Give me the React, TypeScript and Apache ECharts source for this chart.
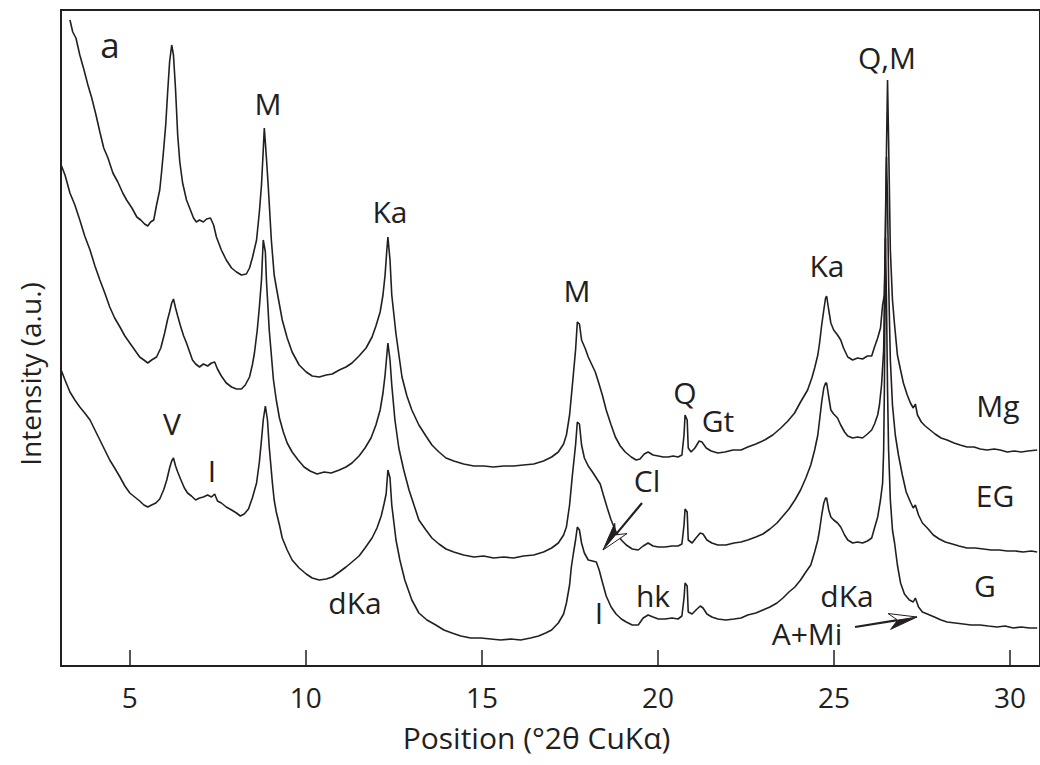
import React, { useEffect, useRef } from "react";
import * as echarts from "echarts";

// Position (°2θ) and intensity (a.u.)
const mgData: [number, number][] = [
  [3.30,646],[3.38,634],[3.47,628],[3.58,611],[3.70,596],[3.81,581],[3.92,568],[4.04,551],[4.15,534],[4.26,518],
  [4.38,508],[4.52,493],[4.66,484],[4.80,473],[4.91,466],[5.06,458],[5.20,449],[5.31,446],[5.42,442],[5.51,440],
  [5.59,444],[5.68,446],[5.76,461],[5.85,476],[5.90,493],[5.96,516],[6.02,541],[6.07,571],[6.13,604],[6.19,621],
  [6.24,611],[6.30,576],[6.36,531],[6.42,504],[6.50,483],[6.61,466],[6.70,458],[6.81,448],[6.89,444],[6.98,446],
  [7.09,444],[7.18,447],[7.29,448],[7.38,441],[7.46,429],[7.60,416],[7.74,406],[7.89,398],[8.03,394],[8.17,391],
  [8.31,392],[8.40,398],[8.48,408],[8.60,426],[8.68,454],[8.74,481],[8.79,516],[8.82,538],[8.88,508],[8.93,481],
  [9.02,426],[9.10,391],[9.19,373],[9.33,346],[9.47,328],[9.61,314],[9.81,301],[10.01,294],[10.18,290],[10.38,289],
  [10.58,291],[10.75,292],[10.95,296],[11.14,299],[11.31,303],[11.51,310],[11.71,318],[11.88,329],[11.99,340],[12.11,354],
  [12.19,371],[12.25,391],[12.30,416],[12.33,429],[12.39,406],[12.44,371],[12.56,332],[12.73,289],[12.87,270],[13.01,256],
  [13.21,241],[13.41,230],[13.58,221],[13.78,214],[13.98,208],[14.20,205],[14.48,202],[14.77,200],[15.05,200],[15.33,199],
  [15.62,200],[15.90,200],[16.18,201],[16.47,202],[16.75,205],[16.98,209],[17.17,214],[17.32,222],[17.40,231],[17.49,251],
  [17.57,281],[17.66,316],[17.71,344],[17.77,342],[17.83,326],[17.94,317],[18.02,309],[18.14,300],[18.22,294],[18.31,284],
  [18.42,271],[18.53,256],[18.67,241],[18.79,229],[18.93,220],[19.07,214],[19.24,209],[19.38,206],[19.49,207],[19.61,212],
  [19.72,214],[19.86,211],[20.01,210],[20.15,209],[20.29,209],[20.43,210],[20.57,209],[20.68,211],[20.74,231],[20.77,251],
  [20.83,246],[20.86,218],[20.94,214],[21.05,218],[21.17,225],[21.25,224],[21.37,218],[21.51,215],[21.70,213],[21.90,214],
  [22.13,216],[22.36,216],[22.55,219],[22.78,222],[23.03,226],[23.26,231],[23.49,238],[23.69,245],[23.88,253],[24.05,264],
  [24.25,276],[24.37,288],[24.45,298],[24.54,311],[24.59,323],[24.65,341],[24.71,356],[24.76,368],[24.79,370],[24.85,356],
  [24.91,343],[24.99,336],[25.10,331],[25.19,326],[25.27,318],[25.39,309],[25.53,306],[25.67,308],[25.81,307],[25.95,310],
  [26.07,310],[26.15,319],[26.24,328],[26.32,338],[26.38,361],[26.43,371],[26.46,416],[26.49,516],[26.52,586],[26.55,526],
  [26.60,416],[26.66,366],[26.72,341],[26.80,311],[26.89,296],[26.97,283],[27.08,271],[27.17,263],[27.25,258],[27.31,262],
  [27.37,251],[27.48,244],[27.59,240],[27.73,236],[27.87,232],[28.04,228],[28.21,226],[28.41,223],[28.58,221],[28.78,219],
  [28.98,219],[29.15,217],[29.35,216],[29.55,217],[29.72,216],[29.92,214],[30.12,215],[30.32,214],[30.51,215],[30.77,216]
];

const egData: [number, number][] = [
  [3.05,501],[3.16,491],[3.30,473],[3.44,461],[3.58,446],[3.72,430],[3.87,416],[4.01,400],[4.15,386],[4.29,373],
  [4.43,359],[4.57,348],[4.72,339],[4.86,330],[5.00,323],[5.14,316],[5.28,309],[5.40,306],[5.51,303],[5.62,306],
  [5.76,309],[5.88,318],[5.99,333],[6.07,346],[6.13,354],[6.19,363],[6.24,367],[6.30,358],[6.36,350],[6.44,340],
  [6.53,330],[6.61,323],[6.70,314],[6.78,306],[6.87,302],[6.98,299],[7.09,302],[7.21,300],[7.32,303],[7.41,304],
  [7.49,297],[7.60,290],[7.74,283],[7.89,279],[8.03,277],[8.17,277],[8.28,281],[8.40,289],[8.48,301],[8.54,313],
  [8.62,336],[8.68,359],[8.74,386],[8.77,411],[8.79,426],[8.85,414],[8.88,386],[8.96,336],[9.02,311],[9.08,286],
  [9.16,266],[9.25,248],[9.36,234],[9.47,223],[9.61,214],[9.78,206],[9.95,199],[10.12,195],[10.32,192],[10.52,194],
  [10.72,193],[10.95,196],[11.14,199],[11.31,203],[11.51,210],[11.68,218],[11.85,228],[11.99,241],[12.11,256],[12.19,273],
  [12.25,291],[12.30,311],[12.33,323],[12.39,306],[12.44,281],[12.53,246],[12.64,218],[12.78,196],[12.93,176],[13.07,161],
  [13.21,146],[13.41,136],[13.58,128],[13.78,122],[13.98,117],[14.20,114],[14.48,111],[14.77,109],[15.05,110],[15.33,108],
  [15.62,109],[15.90,108],[16.18,110],[16.47,111],[16.75,114],[16.98,118],[17.17,123],[17.32,131],[17.40,139],[17.49,161],
  [17.57,191],[17.66,221],[17.71,244],[17.77,242],[17.83,221],[17.91,208],[18.02,200],[18.14,194],[18.25,188],[18.36,182],
  [18.45,171],[18.56,158],[18.67,146],[18.81,134],[18.96,126],[19.10,121],[19.27,117],[19.44,116],[19.58,120],[19.72,123],
  [19.86,120],[20.01,119],[20.20,119],[20.40,120],[20.57,120],[20.68,122],[20.74,141],[20.77,157],[20.83,154],[20.86,126],
  [20.97,123],[21.08,128],[21.20,133],[21.28,132],[21.39,126],[21.53,123],[21.70,121],[21.93,121],[22.16,123],[22.36,124],
  [22.55,126],[22.78,129],[22.98,132],[23.18,137],[23.38,143],[23.55,150],[23.72,157],[23.89,166],[24.05,176],[24.20,188],
  [24.34,201],[24.45,216],[24.54,231],[24.59,246],[24.65,264],[24.71,278],[24.76,283],[24.79,283],[24.85,269],[24.91,256],
  [24.99,252],[25.10,248],[25.19,241],[25.30,234],[25.39,230],[25.53,228],[25.67,229],[25.81,228],[25.95,232],[26.07,236],
  [26.15,242],[26.24,251],[26.29,261],[26.35,281],[26.41,316],[26.43,366],[26.46,446],[26.49,509],[26.52,466],[26.55,386],
  [26.60,306],[26.66,261],[26.74,231],[26.83,211],[26.94,191],[27.05,174],[27.17,164],[27.25,158],[27.31,161],[27.40,151],
  [27.51,143],[27.65,138],[27.82,131],[27.99,127],[28.16,124],[28.36,122],[28.55,120],[28.78,118],[29.01,118],[29.24,117],
  [29.46,116],[29.69,116],[29.92,115],[30.15,115],[30.37,114],[30.60,115],[30.77,114]
];

const gData: [number, number][] = [
  [3.05,296],[3.16,286],[3.30,274],[3.44,266],[3.58,259],[3.72,253],[3.87,246],[4.01,236],[4.15,226],[4.29,216],
  [4.43,206],[4.57,198],[4.72,189],[4.86,180],[5.00,173],[5.14,169],[5.28,165],[5.40,161],[5.51,159],[5.62,161],
  [5.74,163],[5.85,167],[5.96,176],[6.05,186],[6.13,198],[6.19,205],[6.24,208],[6.30,200],[6.36,194],[6.44,187],
  [6.55,178],[6.64,173],[6.75,170],[6.87,166],[6.98,168],[7.09,169],[7.21,171],[7.32,169],[7.41,172],[7.49,165],
  [7.60,163],[7.74,159],[7.89,156],[8.03,153],[8.14,150],[8.25,152],[8.37,157],[8.48,168],[8.60,183],[8.68,204],
  [8.74,226],[8.79,246],[8.85,260],[8.91,246],[8.96,219],[9.05,183],[9.10,166],[9.16,154],[9.25,141],[9.33,128],
  [9.47,116],[9.61,106],[9.81,98],[10.01,92],[10.18,88],[10.38,86],[10.58,87],[10.75,89],[10.95,94],[11.14,99],
  [11.31,104],[11.51,110],[11.68,118],[11.88,128],[12.02,138],[12.14,150],[12.22,162],[12.28,172],[12.33,196],[12.39,188],
  [12.44,161],[12.56,126],[12.67,106],[12.81,86],[13.01,66],[13.21,53],[13.44,46],[13.69,41],[13.92,36],[14.15,33],
  [14.40,30],[14.68,28],[14.97,28],[15.25,27],[15.53,26],[15.82,27],[16.10,26],[16.38,28],[16.61,30],[16.81,33],
  [16.98,36],[17.17,43],[17.32,52],[17.40,63],[17.49,81],[17.54,99],[17.60,113],[17.66,126],[17.71,139],[17.77,136],
  [17.83,123],[17.91,113],[18.02,106],[18.14,105],[18.25,104],[18.33,96],[18.42,84],[18.53,70],[18.67,59],[18.81,52],
  [18.96,47],[19.10,44],[19.27,41],[19.44,41],[19.58,48],[19.72,51],[19.86,49],[20.01,47],[20.20,47],[20.40,48],
  [20.57,47],[20.68,50],[20.74,68],[20.77,83],[20.83,80],[20.86,54],[20.97,52],[21.08,56],[21.20,60],[21.28,58],
  [21.39,52],[21.53,49],[21.70,47],[21.93,46],[22.16,47],[22.36,48],[22.55,51],[22.78,53],[22.98,56],[23.18,59],
  [23.38,63],[23.55,68],[23.72,74],[23.89,79],[24.05,86],[24.20,94],[24.34,101],[24.45,114],[24.54,126],[24.59,136],
  [24.65,151],[24.71,163],[24.76,168],[24.79,168],[24.85,156],[24.91,149],[24.99,146],[25.10,143],[25.19,139],[25.30,131],
  [25.39,126],[25.53,123],[25.67,124],[25.81,123],[25.95,125],[26.07,128],[26.15,138],[26.24,149],[26.32,166],[26.38,183],
  [26.41,216],[26.43,276],[26.46,428],[26.49,366],[26.52,276],[26.55,216],[26.60,166],[26.66,136],[26.72,123],[26.80,101],
  [26.89,83],[27.00,72],[27.14,66],[27.25,64],[27.31,68],[27.40,59],[27.51,54],[27.65,52],[27.85,49],[28.04,46],
  [28.21,44],[28.44,43],[28.67,42],[28.89,41],[29.15,41],[29.38,40],[29.63,39],[29.86,40],[30.09,38],[30.32,39],
  [30.55,38],[30.77,38]
];

const xTicks = [5, 10, 15, 20, 25, 30];

const INK = "#231f20";
const FONT = "Open Sans";

function label(text: string, x: number, y: number, size = 30) {
  return {
    type: "text",
    x,
    y,
    style: {
      text,
      fill: INK,
      fontSize: size,
      fontFamily: FONT,
      align: "center",
      verticalAlign: "middle",
    },
    z: 10,
  };
}

function arrow(tx: number, ty: number, hx: number, hy: number) {
  const dx = hx - tx;
  const dy = hy - ty;
  const len = Math.sqrt(dx * dx + dy * dy);
  const ux = dx / len;
  const uy = dy / len;
  const px = -uy;
  const py = ux;
  const hl = 28;
  const hw = 8;
  const bx = hx - ux * hl;
  const by = hy - uy * hl;
  const nx = hx - ux * hl * 0.7;
  const ny = hy - uy * hl * 0.7;
  const b1: [number, number] = [bx + px * hw, by + py * hw];
  const b2: [number, number] = [bx - px * hw, by - py * hw];
  return [
    {
      type: "line",
      shape: { x1: tx, y1: ty, x2: nx, y2: ny },
      style: { stroke: INK, lineWidth: 2.2 },
      z: 10,
    },
    {
      type: "polygon",
      shape: { points: [[hx, hy], b1, [nx, ny]] },
      style: { fill: INK, stroke: INK, lineWidth: 1 },
      z: 10,
    },
    {
      type: "polygon",
      shape: { points: [[hx, hy], [nx, ny], b2] },
      style: { fill: "#ffffff", stroke: INK, lineWidth: 1 },
      z: 10,
    },
  ];
}

function series(name: string, data: [number, number][]) {
  return {
    name,
    type: "line",
    data,
    showSymbol: false,
    symbol: "none",
    lineStyle: { color: INK, width: 1.6 },
    itemStyle: { color: INK },
    clip: true,
    z: 3,
  };
}

export default function App() {
  const ref = useRef<HTMLDivElement>(null);

  useEffect(() => {
    if (!ref.current) return;
    const chart = echarts.init(ref.current, undefined, { renderer: "svg" });
    chart.setOption({
      animation: false,
      backgroundColor: "#ffffff",
      grid: {
        left: 61,
        right: -3,
        top: 10,
        bottom: 99,
        show: true,
        borderColor: INK,
        borderWidth: 2,
        backgroundColor: "transparent",
      },
      xAxis: {
        type: "value",
        min: 3.046,
        max: 30.85,
        name: "Position (°2θ CuKα)",
        nameLocation: "middle",
        nameGap: 56,
        nameTextStyle: { color: INK, fontSize: 30, fontFamily: FONT, padding: [0, 28, 0, 0] },
        axisLine: { show: true, lineStyle: { color: INK, width: 2 } },
        axisTick: {
          show: true,
          inside: true,
          length: 16,
          customValues: xTicks,
          lineStyle: { color: INK, width: 1.5 },
        },
        axisLabel: {
          show: true,
          customValues: xTicks,
          margin: 17,
          color: INK,
          fontSize: 28,
          fontFamily: FONT,
        },
        splitLine: { show: false },
      },
      yAxis: {
        type: "value",
        min: 0,
        max: 656,
        axisLine: { show: true, lineStyle: { color: INK, width: 2 } },
        axisTick: { show: false },
        axisLabel: { show: false },
        splitLine: { show: false },
      },
      series: [series("Mg", mgData), series("EG", egData), series("G", gData)],
      graphic: [
        {
          type: "text",
          x: 30,
          y: 374,
          rotation: Math.PI / 2,
          style: {
            text: "Intensity (a.u.)",
            fill: INK,
            fontSize: 28,
            fontFamily: FONT,
            align: "center",
            verticalAlign: "middle",
          },
        },
        label("a", 110, 44, 35),
        label("M", 268, 103),
        label("Ka", 390, 211),
        label("M", 577, 290),
        label("Q", 685, 392),
        label("Gt", 718, 420),
        label("Ka", 827, 265),
        label("Q,M", 887, 57),
        label("Mg", 998, 405),
        label("EG", 995, 495),
        label("G", 985, 585),
        label("V", 172, 423),
        label("I", 212, 470),
        label("Cl", 647, 480),
        label("hk", 653, 595),
        label("I", 599, 612),
        label("dKa", 355, 602),
        label("dKa", 847, 595),
        label("A+Mi", 807, 633),
        ...arrow(642, 503, 603, 550),
        ...arrow(855, 627, 917, 617),
      ],
    });
    return () => chart.dispose();
  }, []);

  return (
    <div
      ref={ref}
      style={{ position: "fixed", left: 0, top: 0, width: 1040, height: 765, background: "#fff" }}
    />
  );
}
